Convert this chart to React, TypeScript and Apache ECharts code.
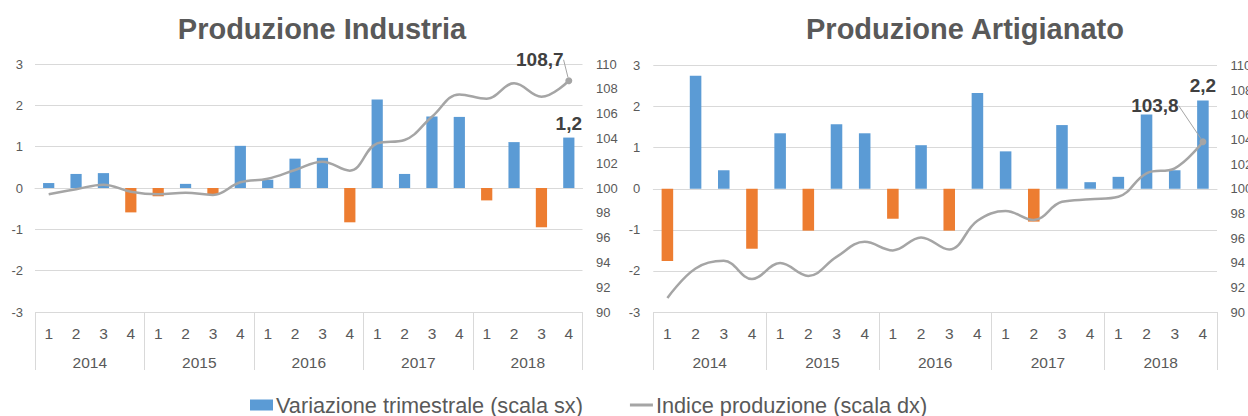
import React, { useEffect, useRef } from 'react';
import * as echarts from 'echarts';

const quarters = ['1', '2', '3', '4', '1', '2', '3', '4', '1', '2', '3', '4', '1', '2', '3', '4', '1', '2', '3', '4'];
const years = ['2014', '2015', '2016', '2017', '2018'];

const industriaVar = [0.12, 0.34, 0.36, -0.59, -0.2, 0.1, -0.17, 1.02, 0.2, 0.71, 0.73, -0.83, 2.14, 0.34, 1.73, 1.72, -0.3, 1.11, -0.95, 1.22];
const industriaIdx = [99.5, 99.9, 100.27, 99.7, 99.49, 99.62, 99.44, 100.46, 100.75, 101.45, 102.12, 101.4, 103.6, 103.87, 105.75, 107.55, 107.2, 108.44, 107.36, 108.65];
const artigianatoVar = [-1.76, 2.75, 0.45, -1.46, 1.35, -1.02, 1.57, 1.35, -0.73, 1.06, -1.02, 2.33, 0.91, -0.8, 1.55, 0.16, 0.29, 1.81, 0.45, 2.15];
const artigianatoIdx = [91.14, 93.53, 94.15, 92.68, 93.98, 92.93, 94.47, 95.69, 95.0, 96.05, 95.07, 97.4, 98.19, 97.46, 98.94, 99.14, 99.35, 101.25, 101.66, 103.82];

const titles = ['Produzione Industria', 'Produzione Artigianato'];
const barName = 'Variazione trimestrale (scala sx)';
const lineName = 'Indice produzione (scala dx)';
const barLabels = ['1,2', '2,2'];
const lineLabels = ['108,7', '103,8'];

const BLUE = '#5b9bd5';
const ORANGE = '#ed7d31';
const GRAY = '#a5a5a5';
const TXT = '#595959';
const GRID = '#d9d9d9';
const FONT = '"Liberation Sans", Arial, sans-serif';

function barData(vals: number[], lastLabel: string) {
  return vals.map((v, i) => {
    const item: any = { value: v, itemStyle: { color: v < 0 ? ORANGE : BLUE } };
    if (i === vals.length - 1) {
      item.label = {
        show: true,
        position: 'top',
        distance: 5,
        formatter: lastLabel,
        fontFamily: FONT,
        fontWeight: 'bold',
        fontSize: 19,
        color: '#404040',
      };
    }
    return item;
  });
}

function lineData(vals: number[], lastLabel: string) {
  return vals.map((v, i) => {
    if (i === vals.length - 1) {
      return {
        value: v,
        symbol: 'circle',
        symbolSize: 7,
        itemStyle: { color: GRAY },
        label: {
          show: true,
          position: 'top',
          formatter: lastLabel,
          fontFamily: FONT,
          fontWeight: 'bold',
          fontSize: 19,
          color: '#404040',
        },
        labelLine: { show: true, lineStyle: { color: GRAY, width: 1 } },
      };
    }
    return { value: v, symbolSize: 0 };
  });
}

export default function App() {
  const ref = useRef<HTMLDivElement>(null);
  useEffect(() => {
    if (!ref.current) return;
    const chart = echarts.init(ref.current, undefined, { renderer: 'svg' });

    const grids = [
      { left: 35, right: 665.5, top: 64, bottom: 104, outerBoundsMode: 'none', containLabel: false },
      { left: 653.3, right: 31, top: 65.5, bottom: 104, outerBoundsMode: 'none', containLabel: false },
    ];

    const xAxis: any[] = [];
    const yAxis: any[] = [];
    [0, 1].forEach((g) => {
      xAxis.push({
        type: 'category',
        gridIndex: g,
        position: 'bottom',
        data: quarters,
        boundaryGap: true,
        axisLine: { show: true, lineStyle: { color: GRID } },
        axisTick: { show: false },
        axisLabel: { interval: 0, margin: 13, color: TXT, fontSize: 15.5, fontFamily: FONT },
      });
      xAxis.push({
        type: 'category',
        gridIndex: g,
        position: 'bottom',
        data: years,
        boundaryGap: true,
        axisLine: { show: false },
        axisTick: { show: true, length: 58, interval: 0, lineStyle: { color: GRID } },
        axisLabel: { interval: 0, margin: 42, color: TXT, fontSize: 15.5, fontFamily: FONT },
      });
      yAxis.push({
        type: 'value',
        gridIndex: g,
        position: 'left',
        min: -3,
        max: 3,
        interval: 1,
        axisLine: { show: false },
        axisTick: { show: false },
        splitLine: { show: true, lineStyle: { color: GRID } },
        axisLabel: { margin: g === 0 ? 12 : 13, color: TXT, fontSize: 13, fontFamily: FONT },
      });
      yAxis.push({
        type: 'value',
        gridIndex: g,
        position: 'right',
        min: 90,
        max: 110,
        interval: 2,
        axisLine: { show: false },
        axisTick: { show: false },
        splitLine: { show: false },
        axisLabel: { margin: 13.5, color: TXT, fontSize: 13, fontFamily: FONT },
      });
    });

    const varSets = [industriaVar, artigianatoVar];
    const idxSets = [industriaIdx, artigianatoIdx];
    const layouts = [
      { dx: -29, dy: -3 },
      { dx: -48, dy: -18 },
    ];
    const series: any[] = [];
    [0, 1].forEach((g) => {
      series.push({
        name: barName,
        type: 'bar',
        xAxisIndex: g * 2,
        yAxisIndex: g * 2,
        barWidth: '41%',
        itemStyle: { color: BLUE },
        data: barData(varSets[g], barLabels[g]),
      });
      series.push({
        name: lineName,
        type: 'line',
        xAxisIndex: g * 2,
        yAxisIndex: g * 2 + 1,
        smooth: 0.4,
        symbol: 'circle',
        symbolSize: 0,
        lineStyle: { color: GRAY, width: 2.5 },
        itemStyle: { color: GRAY },
        labelLayout: layouts[g],
        data: lineData(idxSets[g], lineLabels[g]),
      });
    });

    chart.setOption({
      animation: false,
      textStyle: { fontFamily: FONT },
      grid: grids,
      xAxis,
      yAxis,
      series,
      legend: {
        left: 245,
        top: 389,
        itemWidth: 23,
        itemHeight: 11,
        itemGap: 47,
        textStyle: { color: TXT, fontSize: 21.7, fontFamily: FONT, padding: [0, 0, 0, -2] },
        data: [
          { name: barName, icon: 'rect' },
          { name: lineName, icon: 'path://M0,0 L23,0 L23,3 L0,3 Z' },
        ],
      },
      graphic: [
        {
          type: 'text',
          x: 322,
          y: 28.5,
          style: {
            text: titles[0],
            textAlign: 'center',
            textVerticalAlign: 'middle',
            align: 'center',
            verticalAlign: 'middle',
            fontSize: 29,
            fontWeight: 'bold',
            fontFamily: FONT,
            fill: TXT,
          },
        },
        {
          type: 'text',
          x: 965,
          y: 28.5,
          style: {
            text: titles[1],
            textAlign: 'center',
            textVerticalAlign: 'middle',
            align: 'center',
            verticalAlign: 'middle',
            fontSize: 29,
            fontWeight: 'bold',
            fontFamily: FONT,
            fill: TXT,
          },
        },
      ],
    });
    return () => chart.dispose();
  }, []);
  return (
    <div
      ref={ref}
      style={{ position: 'fixed', left: 0, top: 0, width: 1248, height: 416, background: '#fff' }}
    />
  );
}
